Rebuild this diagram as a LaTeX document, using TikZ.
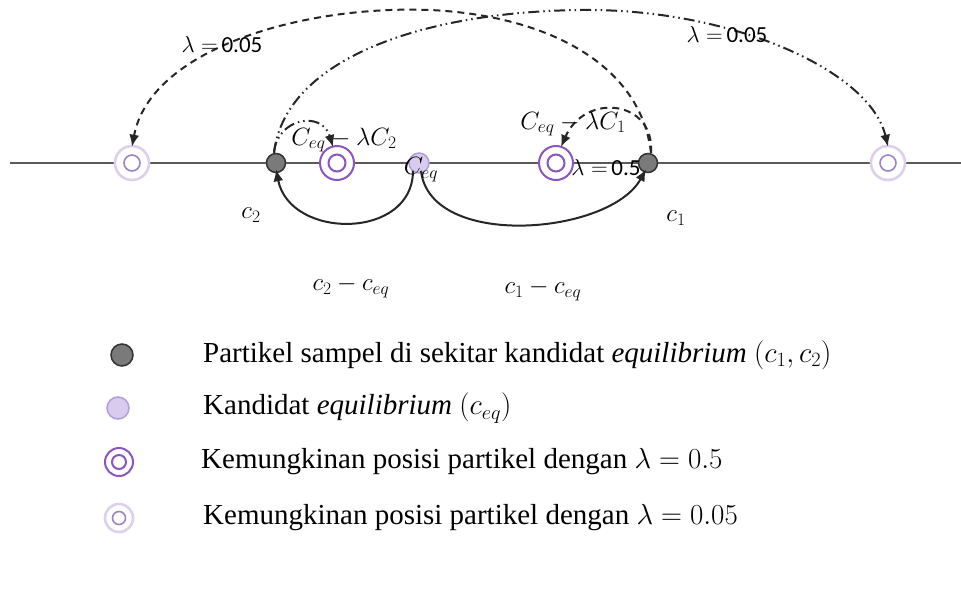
\RequirePackage{fix-cm}
\documentclass[tikz,border=0pt]{standalone}
\usepackage{fontspec}
\setmainfont{Liberation Serif}
\newfontfamily\calib{Carlito}
\newfontfamily\legfont{Liberation Serif}
\usetikzlibrary{arrows.meta}
\definecolor{axisgray}{HTML}{5A5A5A}
\definecolor{darkfill}{HTML}{7A7A7A}
\definecolor{darkedge}{HTML}{333333}
\definecolor{eqfill}{HTML}{D8CCEE}
\definecolor{eqedge}{HTML}{B49CDA}
\definecolor{halfpurple}{HTML}{8A55C2}
\definecolor{lightouter}{HTML}{DDD0EC}
\definecolor{lightinner}{HTML}{9C84C6}
\tikzset{
  axisline/.style={draw=axisgray, line width=2pt},
  sample/.style={circle, draw=darkedge, fill=darkfill, line width=1.5pt, minimum size=19pt, inner sep=0pt},
  candidate/.style={circle, draw=eqedge, fill=eqfill, line width=1.5pt, minimum size=20pt, inner sep=0pt},
  halfouter/.style={circle, draw=halfpurple, fill=white, line width=2pt, minimum size=34pt, inner sep=0pt},
  halfinner/.style={circle, draw=halfpurple, line width=2pt, minimum size=17pt, inner sep=0pt},
  tinyouter/.style={circle, draw=lightouter, fill=white, line width=2.6pt, minimum size=34pt, inner sep=0pt},
  tinyinner/.style={circle, draw=lightinner, line width=1.6pt, minimum size=16pt, inner sep=0pt},
  tip/.style={-{Latex[length=12pt,width=10pt]}},
  solidarc/.style={tip, draw=black!85, line width=2pt},
  dasharc/.style={tip, draw=black!85, line width=2pt, dash pattern=on 7pt off 5pt},
  dotdasharc/.style={tip, draw=black!85, line width=2pt, dash pattern=on 11pt off 4pt on 1.5pt off 4pt on 1.5pt off 4pt},
  lab/.style={inner sep=1pt, font=\fontsize{25}{28}\selectfont},
  lamlab/.style={inner sep=1pt, font=\fontsize{23}{26}\selectfont},
  legtext/.style={anchor=west, inner sep=0pt, font=\legfont\fontsize{29}{33}\selectfont},
}
\begin{document}
\begin{tikzpicture}[x=1pt,y=-1pt]
\useasboundingbox (0,0) rectangle (961,590);
\fill[white] (0,0) rectangle (961,590);
\coordinate (axL) at (10,163);
\coordinate (axR) at (961,163);
\draw[axisline] (axL) -- (axR);

% nodes on the axis
\node[tinyouter] (L1) at (132,163) {};
\node[tinyinner] (L1i) at (132,163) {};
\node[sample] (c2) at (276,163) {};
\node[halfouter] (La) at (337,163) {};
\node[halfinner] (Lai) at (337,163) {};
\node[candidate] (ceq) at (419,163) {};
\node[halfouter] (Ra) at (556,163) {};
\node[halfinner] (Rai) at (556,163) {};
\node[sample] (c1) at (648,163) {};
\node[tinyouter] (R1) at (888,163) {};
\node[tinyinner] (R1i) at (888,163) {};

% arcs
\draw[dasharc] ([xshift=3pt]c1.north) .. controls (640,60) and (540,15) .. (430,10)
   .. controls (300,5) and (150,50) .. ([yshift=-2pt]L1.north);
\draw[dotdasharc] ([xshift=-2pt]c2.north) .. controls (285,60) and (420,12) .. (580,10)
   .. controls (730,8) and (870,70) .. ([yshift=-2pt]R1.north);
\draw[dotdasharc] ([xshift=-2pt]c2.north) .. controls (277,118) and (322,110) .. ([xshift=-4pt,yshift=-2pt]La.north);
\draw[dasharc] ([xshift=3pt]c1.north) .. controls (655,100) and (585,92) .. ([xshift=5pt,yshift=-2pt]Ra.north);
\draw[solidarc] ([xshift=-6pt,yshift=3pt]ceq.south) .. controls (413,240) and (290,240) .. ([yshift=4pt]c2.south);
\draw[solidarc] ([xshift=2pt,yshift=3pt]ceq.south) .. controls (430,250) and (610,235) .. ([xshift=-2pt,yshift=4pt]c1.south);

% labels
\node[lamlab] (tL) at (222,45) {$\lambda=$\,{\calib 0.05}};
\node[lamlab] (tR) at (727,35) {$\lambda=$\,{\calib 0.05}};
\node[lab] (tc2l) at (344,140) {$C_{eq}-\lambda C_2$};
\node[lab] (tc1l) at (573,124) {$C_{eq}-\lambda C_1$};
\node[lamlab] (tlh) at (606,168) {$\lambda=$\,{\calib 0.5}};
\node[lab] (tceq) at (421,170) {$C_{eq}$};
\node[lab] (tc2) at (251,215) {$c_2$};
\node[lab] (tc1) at (676,218) {$c_1$};
\node[lab] (td2) at (351,287) {$c_2-c_{eq}$};
\node[lab] (td1) at (543,290) {$c_1-c_{eq}$};

% legend
\node[sample, minimum size=22pt] (g1) at (122,355) {};
\node[candidate, minimum size=22pt] (g2) at (118,408) {};
\node[halfouter, minimum size=28pt] (g3) at (119,462) {};
\node[halfinner, minimum size=14pt] (g3i) at (119,462) {};
\node[tinyouter, minimum size=28pt] (g4) at (119,518) {};
\node[tinyinner, minimum size=13pt] (g4i) at (119,518) {};
\node[legtext] (t1) at (203,355) {Partikel sampel di sekitar kandidat \textit{equilibrium} $(c_1,c_2)$};
\node[legtext] (t2) at (203,408) {Kandidat \textit{equilibrium} $(c_{eq})$};
\node[legtext] (t3) at (201,462) {Kemungkinan posisi partikel dengan $\lambda=0.5$};
\node[legtext] (t4) at (203,518) {Kemungkinan posisi partikel dengan $\lambda=0.05$};
\end{tikzpicture}
\end{document}
